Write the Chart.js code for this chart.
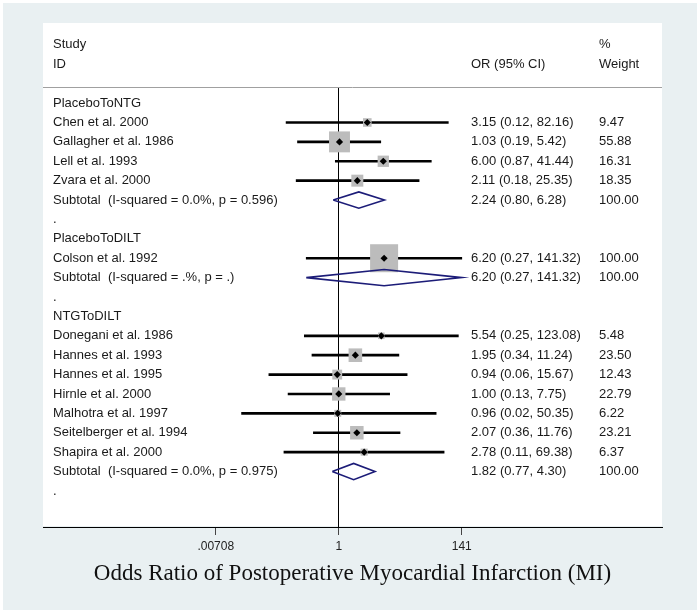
<!DOCTYPE html>
<html lang="en">
<head>
    <meta charset="UTF-8">
    <title>Odds Ratio of Postoperative MI</title>
    <script src="https://cdn.jsdelivr.net/npm/chart.js"></script>
    <style>
        html, body { margin: 0; padding: 0; background: #fff; }
    </style>
</head>
<body>
    <canvas id="forestChart" width="700" height="614"></canvas>
    <script>
        // one entry per row of the plot, top to bottom
        const rowLabels = [
            'PlaceboToNTG',
            'Chen et al. 2000',
            'Gallagher et al. 1986',
            'Lell et al. 1993',
            'Zvara et al. 2000',
            'Subtotal  (I-squared = 0.0%, p = 0.596)',
            '.',
            'PlaceboToDILT',
            'Colson et al. 1992',
            'Subtotal  (I-squared = .%, p = .)',
            '.',
            'NTGToDILT',
            'Donegani et al. 1986',
            'Hannes et al. 1993',
            'Hannes et al. 1995',
            'Hirnle et al. 2000',
            'Malhotra et al. 1997',
            'Seitelberger et al. 1994',
            'Shapira et al. 2000',
            'Subtotal  (I-squared = 0.0%, p = 0.975)',
            '.'
        ];
        const rowKinds = [
            'group', 'study', 'study', 'study', 'study', 'subtotal', 'blank',
            'group', 'study', 'subtotal', 'blank',
            'group', 'study', 'study', 'study', 'study', 'study', 'study', 'study', 'subtotal', 'blank'
        ];
        const oddsRatios = [null, 3.15, 1.03, 6.00, 2.11, 2.24, null, null, 6.20, 6.20, null, null, 5.54, 1.95, 0.94, 1.00, 0.96, 2.07, 2.78, 1.82, null];
        const ciLower = [null, 0.12, 0.19, 0.87, 0.18, 0.80, null, null, 0.27, 0.27, null, null, 0.25, 0.34, 0.06, 0.13, 0.02, 0.36, 0.11, 0.77, null];
        const ciUpper = [null, 82.16, 5.42, 41.44, 25.35, 6.28, null, null, 141.32, 141.32, null, null, 123.08, 11.24, 15.67, 7.75, 50.35, 11.76, 69.38, 4.30, null];
        const weights = [null, 9.47, 55.88, 16.31, 18.35, 100.00, null, null, 100.00, 100.00, null, null, 5.48, 23.50, 12.43, 22.79, 6.22, 23.21, 6.37, 100.00, null];

        const xTickValues = [0.00708, 1, 141];
        const xTickLabels = ['.00708', '1', '141'];
        const axisTitle = 'Odds Ratio of Postoperative Myocardial Infarction (MI)';

        const studyRows = rowKinds.map((k, i) => k === 'study' ? i : -1).filter(i => i >= 0);
        const subtotalRows = rowKinds.map((k, i) => k === 'subtotal' ? i : -1).filter(i => i >= 0);

        const textFont = '13px "Liberation Sans", Arial, sans-serif';
        const textColor = '#1a1a1a';
        const navy = '#1c1c78';

        const panelPlugin = {
            id: 'panel',
            beforeDraw(chart) {
                const ctx = chart.ctx;
                ctx.save();
                ctx.fillStyle = '#ffffff';
                ctx.fillRect(0, 0, chart.width, chart.height);
                ctx.fillStyle = '#e9f0f2';
                ctx.fillRect(3, 3, 694, 607);
                ctx.fillStyle = '#ffffff';
                ctx.fillRect(43, 23, 619, 503);
                ctx.restore();
            }
        };

        const textPlugin = {
            id: 'forestText',
            afterDraw(chart) {
                const ctx = chart.ctx;
                const yScale = chart.scales.y;
                ctx.save();
                // header separator
                ctx.strokeStyle = '#a0a0a0';
                ctx.lineWidth = 1;
                ctx.beginPath();
                ctx.moveTo(43, 87.5);
                ctx.lineTo(662, 87.5);
                ctx.stroke();

                ctx.font = textFont;
                ctx.fillStyle = textColor;
                ctx.textBaseline = 'middle';
                ctx.textAlign = 'left';
                ctx.fillText('Study', 53, 44);
                ctx.fillText('ID', 53, 64);
                ctx.fillText('OR (95% CI)', 471, 64);
                ctx.fillText('%', 599, 44);
                ctx.fillText('Weight', 599, 64);

                rowLabels.forEach((label, i) => {
                    const y = yScale.getPixelForValue(i);
                    ctx.fillText(label, 53, y);
                    if (oddsRatios[i] !== null) {
                        const txt = oddsRatios[i].toFixed(2) + ' (' + ciLower[i].toFixed(2) + ', ' + ciUpper[i].toFixed(2) + ')';
                        ctx.fillText(txt, 471, y);
                        ctx.fillText(weights[i].toFixed(2), 599, y);
                    }
                });
                ctx.restore();
            }
        };

        const diamondSets = subtotalRows.map(i => ({
            type: 'scatter',
            data: [
                { x: ciLower[i], y: i },
                { x: oddsRatios[i], y: i - 0.42 },
                { x: ciUpper[i], y: i },
                { x: oddsRatios[i], y: i + 0.42 },
                { x: ciLower[i], y: i }
            ],
            showLine: true,
            borderColor: navy,
            borderWidth: 1.6,
            pointRadius: 0,
            fill: false,
            order: 0
        }));

        const ctx = document.getElementById('forestChart').getContext('2d');
        const chart = new Chart(ctx, {
            type: 'scatter',
            data: {
                datasets: [
                    {
                        type: 'scatter',
                        label: 'point',
                        data: studyRows.map(i => ({ x: oddsRatios[i], y: i })),
                        pointStyle: 'rectRot',
                        pointRadius: 3.6,
                        backgroundColor: '#000',
                        borderColor: '#000',
                        borderWidth: 0,
                        order: 1
                    },
                    {
                        type: 'scatter',
                        label: 'weight box',
                        data: studyRows.map(i => ({ x: oddsRatios[i], y: i })),
                        pointStyle: 'rect',
                        pointRadius: c => 19.8 * Math.sqrt(weights[studyRows[c.dataIndex]] / 100),
                        backgroundColor: '#bcbcbc',
                        borderWidth: 0,
                        order: 2
                    },
                    {
                        type: 'bar',
                        label: '95% CI',
                        indexAxis: 'y',
                        data: studyRows.map(i => ({ x: [ciLower[i], ciUpper[i]], y: i })),
                        backgroundColor: '#000',
                        borderWidth: 0,
                        barThickness: 2,
                        order: 3
                    },
                    ...diamondSets
                ]
            },
            options: {
                responsive: false,
                animation: false,
                devicePixelRatio: 1,
                layout: { padding: { left: 43, right: 38, top: 87, bottom: 26 } },
                plugins: {
                    legend: { display: false },
                    tooltip: { enabled: false }
                },
                scales: {
                    x: {
                        type: 'logarithmic',
                        position: 'bottom',
                        offset: false,
                        min: Math.pow(10, -5.17),
                        max: Math.pow(10, 5.65),
                        afterBuildTicks: scale => {
                            scale.ticks = xTickValues.map(v => ({ value: v }));
                        },
                        ticks: {
                            autoSkip: false,
                            maxRotation: 0,
                            padding: 4,
                            color: '#222',
                            font: { family: '"Liberation Sans", Arial, sans-serif', size: 12 },
                            callback: (value, index) => xTickLabels[index]
                        },
                        grid: {
                            offset: false,
                            drawOnChartArea: true,
                            color: c => (c.tick && c.tick.value === 1) ? '#000' : 'rgba(0,0,0,0)',
                            tickColor: '#444',
                            tickLength: 8,
                            lineWidth: 1
                        },
                        border: { display: true, color: '#000', width: 1 },
                        title: {
                            display: true,
                            text: axisTitle,
                            color: '#111',
                            font: { family: '"Liberation Serif", "Times New Roman", serif', size: 23 },
                            padding: { top: 3, bottom: 0 }
                        }
                    },
                    y: {
                        type: 'linear',
                        reverse: true,
                        offset: false,
                        grid: { offset: false },
                        min: -0.83,
                        max: 21.86,
                        display: false
                    }
                }
            },
            plugins: [panelPlugin, textPlugin]
        });
    </script>
</body>
</html>
